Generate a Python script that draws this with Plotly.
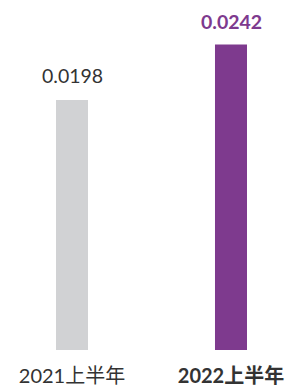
import plotly.graph_objects as go

categories = ["2021上半年", "2022上半年"]
values = [0.0198, 0.0242]
value_labels = ["0.0198", "0.0242"]
bar_colors = ["#D1D2D4", "#7E3A8E"]
label_colors = ["#333333", "#7E3A8E"]
label_bold = [False, True]

x = [0, 1]
fig = go.Figure()
fig.add_trace(go.Bar(
    x=x, y=values, marker=dict(color=bar_colors, line=dict(width=0)),
    width=0.2013, hoverinfo="skip",
))

for xi, v, t, c, b in zip(x, values, value_labels, label_colors, label_bold):
    fig.add_annotation(
        x=xi, y=v, text=(f"<b>{t}</b>" if b else t), showarrow=False,
        yanchor="bottom", yshift=9 if b else 11,
        font=dict(size=19.5, color=c, family="Lato, Noto Sans CJK SC, sans-serif"),
    )

ticktext = [f"<b>{c}</b>" if b else c for c, b in zip(categories, label_bold)]

fig.update_layout(
    width=288, height=387,
    margin=dict(l=0, r=0, t=0, b=37),
    paper_bgcolor="white", plot_bgcolor="white",
    showlegend=False,
    font=dict(family="Lato, Noto Sans CJK SC, sans-serif", color="#333333"),
    xaxis=dict(range=[-0.4528, 1.3585], tickvals=x, ticktext=ticktext,
               showgrid=False, zeroline=False, showline=False, ticks="",
               ticklabelstandoff=12,
               tickfont=dict(size=20, color="#333333"), fixedrange=True),
    yaxis=dict(range=[0, 0.02772], visible=False, showgrid=False, zeroline=False,
               fixedrange=True),
)

fig.write_html("out.html", config={"displayModeBar": False},
               post_script="document.body.style.margin='0';document.body.style.overflow='hidden';")
